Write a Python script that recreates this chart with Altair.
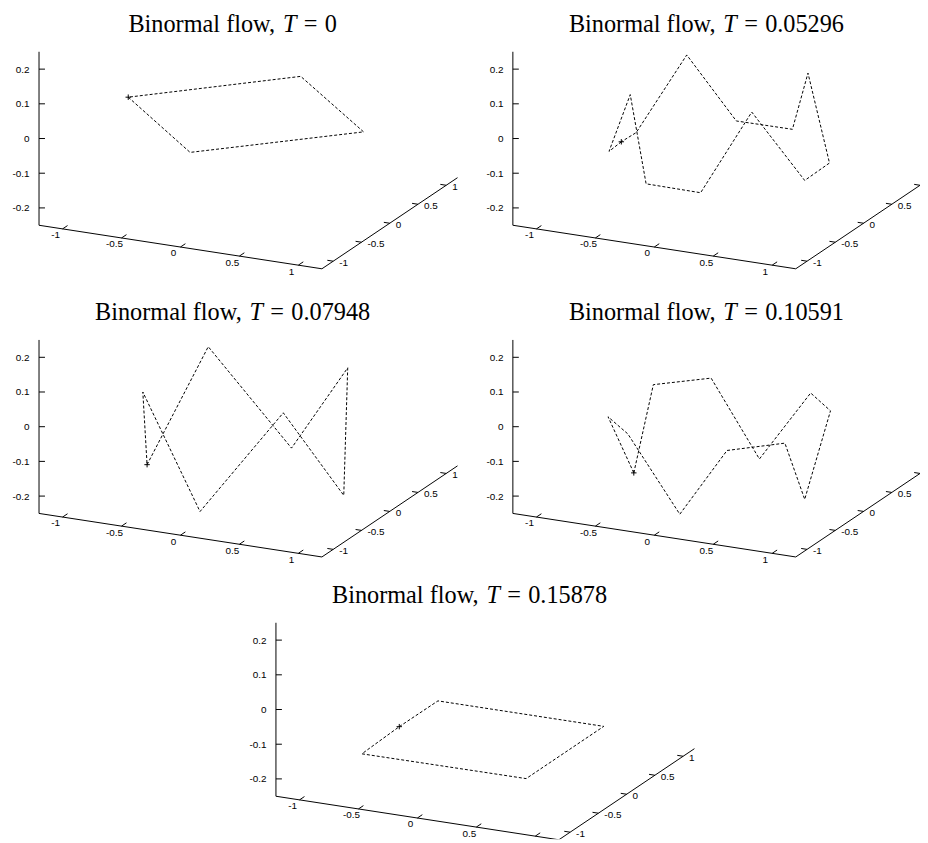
import altair as alt
import pandas as pd

# ---------------- data ----------------
TIMES = ["0", "0.05296", "0.07948", "0.10591", "0.15878"]

# 3-D box of every panel
X_RANGE = [-1.2, 1.2]
Y_RANGE = [-1.2, 1.2]
Z_RANGE = [-0.25, 0.25]
X_TICKS = [-1, -0.5, 0, 0.5, 1]
Y_TICKS = [-1, -0.5, 0, 0.5, 1]
Z_TICKS = [0.2, 0.1, 0, -0.1, -0.2]
X_TICK_LABELS = ["-1", "-0.5", "0", "0.5", "1"]
Y_TICK_LABELS = ["-1", "-0.5", "0", "0.5", "1"]
Z_TICK_LABELS = ["0.2", "0.1", "0", "-0.1", "-0.2"]

# polygon vertices in projected view-plane coordinates
# (u: right of the z axis, v: below the z = 0 level); first point = marked start
CURVE1_U = [90.0, 152.4, 327.4, 264.0, 90.0]
CURVE1_V = [-41.7, 14.0, -6.7, -62.7, -41.7]

CURVE2_U = [109.4, 97.0, 118.4, 134.4, 189.4, 241.0, 294.4, 319.4, 297.7, 282.0, 225.4, 175.4, 124.4, 109.4]
CURVE2_V = [3.3, 13.0, -44.3, 45.7, 54.7, -26.7, 42.3, 24.7, -66.0, -9.3, -17.7, -84.3, -6.0, 3.3]

CURVE3_U = [109.0, 170.7, 254.7, 311.4, 307.4, 246.4, 162.4, 104.7, 109.0]
CURVE3_V = [38.3, -80.7, 21.6, -59.4, 69.3, -14.0, 85.6, -35.0, 38.3]

CURVE4_U = [122.0, 141.7, 200.0, 248.7, 300.4, 320.4, 294.4, 274.4, 216.0, 168.4, 116.0, 96.0, 122.0]
CURVE4_V = [46.6, -42.4, -49.0, 32.6, -34.0, -16.0, 73.3, 16.6, 24.0, 88.3, 7.3, -10.0, 46.6]

CURVE5_U = [124.4, 163.4, 330.7, 252.4, 86.7, 124.4]
CURVE5_V = [17.3, -8.7, 17.0, 69.7, 44.7, 17.3]

CURVES_U = [CURVE1_U, CURVE2_U, CURVE3_U, CURVE4_U, CURVE5_U]
CURVES_V = [CURVE1_V, CURVE2_V, CURVE3_V, CURVE4_V, CURVE5_V]

# ---------------- layout / projection ----------------
W, H = 920, 835
PAGE_RIGHT = 928
ORIGINS = [(39.3, 136.0), (517.3, 136.0), (39.3, 426.7), (517.3, 426.7), (278.3, 712.0)]
TITLE_CX = 195.3      # title centre, relative to the panel's z axis
TITLE_BASE = -107.5   # title baseline, relative to the z = 0 level
TFS = 24.5            # title font size
MSP = 0.3             # math space around "=" (em)

EX = (118.9, 18.3)
EY = (57.0, -38.3)
EZ = (0.0, -350.0)
CORNER = (0.0, 87.5)
TICK = 6.0

# Times / Liberation Serif advance widths (em)
ADV = {"B": .667, "i": .278, "n": .5, "o": .5, "r": .333, "m": .778, "a": .444, "l": .278,
       " ": .25, "f": .333, "w": .722, ",": .25, "=": .564, ".": .25}


def tw(s):
    return sum(ADV.get(c, .5) for c in s)


def proj(x, y, z):
    dx, dy, dz = x - X_RANGE[0], y - Y_RANGE[0], z - Z_RANGE[0]
    u = CORNER[0] + dx * EX[0] + dy * EY[0] + dz * EZ[0]
    v = CORNER[1] + dx * EX[1] + dy * EY[1] + dz * EZ[1]
    return u, v


seg_rows, zl_rows, xl_rows, yl_rows = [], [], [], []
line_rows, star_rows, title_rows = [], [], []

for p, (ox, oy) in enumerate(ORIGINS):
    def add_seg(a, b):
        seg_rows.append(dict(x=ox + a[0], y=oy + a[1], x2=ox + b[0], y2=oy + b[1]))

    # axes lines
    add_seg(proj(X_RANGE[0], Y_RANGE[0], Z_RANGE[0]), proj(X_RANGE[0], Y_RANGE[0], Z_RANGE[1]))
    add_seg(proj(X_RANGE[0], Y_RANGE[0], Z_RANGE[0]), proj(X_RANGE[1], Y_RANGE[0], Z_RANGE[0]))
    add_seg(proj(X_RANGE[1], Y_RANGE[0], Z_RANGE[0]), proj(X_RANGE[1], Y_RANGE[1], Z_RANGE[0]))

    # z ticks
    for zt, lab in zip(Z_TICKS, Z_TICK_LABELS):
        a = proj(X_RANGE[0], Y_RANGE[0], zt)
        add_seg(a, (a[0] + TICK, a[1]))
        zl_rows.append(dict(x=ox + a[0] - 9.5, y=oy + a[1] + 0.5, label=lab))
    # x ticks (pointing along +y)
    ny = (EY[0] ** 2 + EY[1] ** 2) ** 0.5
    for xt, lab in zip(X_TICKS, X_TICK_LABELS):
        a = proj(xt, Y_RANGE[0], Z_RANGE[0])
        add_seg(a, (a[0] + TICK * EY[0] / ny, a[1] + TICK * EY[1] / ny))
        xl_rows.append(dict(x=ox + a[0] - 7, y=oy + a[1] + 6.5, label=lab))
    # y ticks (pointing along -x)
    nx = (EX[0] ** 2 + EX[1] ** 2) ** 0.5
    for yt, lab in zip(Y_TICKS, Y_TICK_LABELS):
        a = proj(X_RANGE[1], yt, Z_RANGE[0])
        add_seg(a, (a[0] - TICK * EX[0] / nx, a[1] - TICK * EX[1] / nx))
        if ox + a[0] + 6 < PAGE_RIGHT:   # labels past the page edge are not on the picture
            yl_rows.append(dict(x=ox + a[0] + 6, y=oy + a[1] + 2, label=lab))

    for i, (u, v) in enumerate(zip(CURVES_U[p], CURVES_V[p])):
        line_rows.append(dict(x=ox + u, y=oy + v, panel=p, idx=i))
    star_rows.append(dict(x=ox + CURVES_U[p][0], y=oy + CURVES_V[p][0]))

    # title: "Binormal flow, " + italic T + " = " + value, centred
    left_txt = "Binormal flow,"
    w_left = tw(left_txt) + 0.25
    w_T = 0.556
    w_eq = MSP + 0.564 + MSP
    total = w_left + w_T + w_eq + tw(TIMES[p])
    x0 = ox + TITLE_CX - total * TFS / 2
    ty = oy + TITLE_BASE
    title_rows.append(dict(x=x0, y=ty, piece=left_txt, kind="plain"))
    title_rows.append(dict(x=x0 + w_left * TFS, y=ty, piece="T", kind="T"))
    title_rows.append(dict(x=x0 + (w_left + w_T + MSP) * TFS, y=ty, piece="=", kind="plain"))
    title_rows.append(dict(x=x0 + (w_left + w_T + w_eq) * TFS, y=ty, piece=TIMES[p], kind="plain"))

segs = pd.DataFrame(seg_rows)
zl = pd.DataFrame(zl_rows)
xl = pd.DataFrame(xl_rows)
yl = pd.DataFrame(yl_rows)
lines = pd.DataFrame(line_rows)
stars = pd.DataFrame(star_rows)
titles = pd.DataFrame(title_rows)

xs = alt.Scale(domain=[8, 928])
ys = alt.Scale(domain=[8, 843], reverse=True)
X = alt.X("x:Q", scale=xs, axis=None)
Y = alt.Y("y:Q", scale=ys, axis=None)

rules = alt.Chart(segs).mark_rule(color="black", strokeWidth=1, clip=True).encode(
    x=X, y=Y, x2="x2:Q", y2="y2:Q")

curve = alt.Chart(lines).mark_line(color="black", strokeWidth=1, strokeDash=[3, 2], clip=True).encode(
    x=X, y=Y, detail="panel:N", order="idx:Q")

star = alt.Chart(stars).mark_point(shape="M-1,0L1,0M0,-1L0,1", size=30, filled=False,
                                   color="black", strokeWidth=1, opacity=1).encode(x=X, y=Y)

lab_font = dict(font="Liberation Sans", fontSize=10, color="black", clip=True)
ztext = alt.Chart(zl).mark_text(align="right", baseline="middle", **lab_font).encode(x=X, y=Y, text="label:N")
xtext = alt.Chart(xl).mark_text(align="center", baseline="middle", **lab_font).encode(x=X, y=Y, text="label:N")
ytext = alt.Chart(yl).mark_text(align="left", baseline="middle", **lab_font).encode(x=X, y=Y, text="label:N")

tfont = dict(font="Liberation Serif", fontSize=TFS, color="black", baseline="alphabetic", align="left")
t_plain = alt.Chart(titles).transform_filter("datum.kind == 'plain'").mark_text(**tfont).encode(
    x=X, y=Y, text="piece:N")
t_T = alt.Chart(titles).transform_filter("datum.kind == 'T'").mark_text(fontStyle="italic", **tfont).encode(
    x=X, y=Y, text="piece:N")

chart = alt.layer(rules, curve, star, ztext, xtext, ytext, t_plain, t_T).properties(
    width=W, height=H, padding=0, autosize="none"
).configure_view(stroke=None)

chart.save("out.html", embed_options={"renderer": "svg", "actions": False})
